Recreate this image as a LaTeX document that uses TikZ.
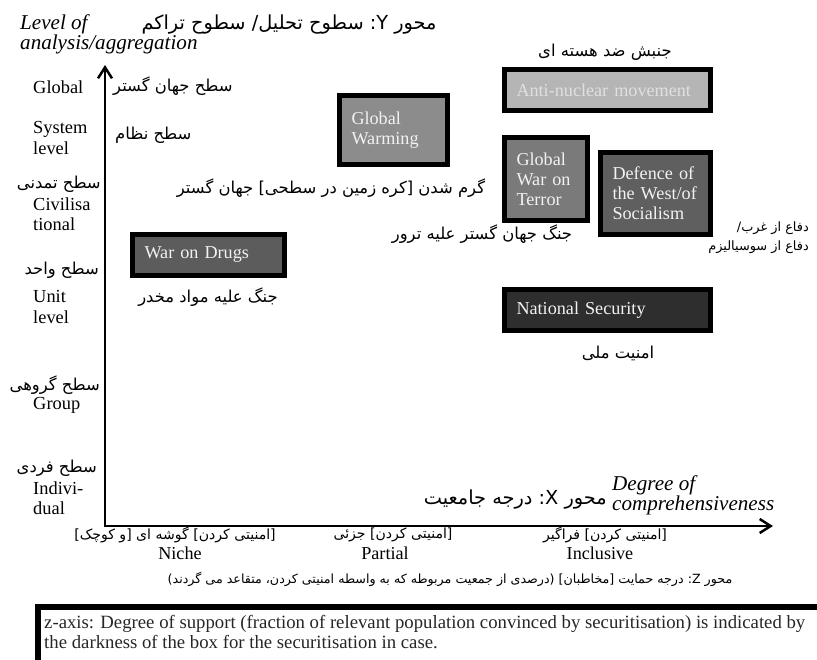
\documentclass[tikz,border=0pt]{standalone}
\usepackage{fontspec}
\setmainfont{Liberation Serif}
\newfontfamily\fafont[Script=Arabic]{DejaVu Sans}
\TeXXeTstate=1
\usetikzlibrary{arrows.meta}
\definecolor{zlight}{HTML}{B5B5B5}
\definecolor{zwarm}{HTML}{8C8C8C}
\definecolor{zterror}{HTML}{7A7A7A}
\definecolor{zwest}{HTML}{5F5F5F}
\definecolor{zdrugs}{HTML}{5C5C5C}
\definecolor{zdark}{HTML}{2E2E2E}
\newcommand{\rl}[1]{\beginR#1\endR}
\tikzset{
  secbox/.style={draw=black,line width=0.15cm,anchor=north west,align=left,inner xsep=0.36cm,inner ysep=0pt,outer sep=0pt,text=white!95!black,font=\fontsize{15.5}{17}\selectfont},
  lvl/.style={anchor=west,align=left,inner sep=0pt,font=\fontsize{15.7}{17.5}\selectfont},
  axname/.style={anchor=north west,align=left,inner sep=0pt,font=\itshape\fontsize{18}{17.5}\selectfont},
  fa/.style={inner sep=0pt,font=\fafont\fontsize{14}{17}\selectfont},
  fabig/.style={fa,font=\fafont\fontsize{16.5}{20}\selectfont},
  fasmall/.style={fa,font=\fafont\fontsize{12}{14}\selectfont},
  tick/.style={inner sep=0pt,font=\fontsize{15.5}{17}\selectfont},
  axisline/.style={line width=0.075cm,<->},
  note/.style={anchor=north west,align=left,inner sep=0pt,text=black!85,font=\fontsize{16}{17}\selectfont},
  noteframe/.style={line width=0.18cm},
}
\begin{document}
\begin{tikzpicture}[x=0.03cm,y=-0.03cm,>={Straight Barb[length=0.33cm,width=0.42cm]}]
\useasboundingbox (0,0) rectangle (817,659);

% axes
\coordinate (origin) at (105,526);
\coordinate (ytip) at (105,65);
\coordinate (xtip) at (773,526);
\draw[axisline] (ytip) -- (origin) -- (xtip);

\node[axname] (ylabel) at (20,14) {Level of\\analysis/aggregation};
\node[fabig] (ytitle) at (289,25) {\rl{محور \beginL Y\endL: سطوح تحلیل/ سطوح تراکم}};
\node[axname] (xlabel) at (612,475) {Degree of\\comprehensiveness};
\node[fabig,anchor=east] (xtitle) at (607,500) {\rl{محور \beginL X\endL: درجه جامعیت}};

% levels on the y axis
\node[lvl] (global) at (33,87) {Global};
\node[lvl] (system) at (33,138) {System\\level};
\node[lvl] (civ) at (33,214) {Civilisa\\tional};
\node[lvl] (unit) at (33,307) {Unit\\level};
\node[lvl] (group) at (33,405) {Group};
\node[lvl] (indiv) at (33,498) {Indivi-\\dual};

\node[fa,anchor=west] (globalfa) at (113,86) {\rl{سطح جهان گستر}};
\node[fa,anchor=west] (systemfa) at (115,135) {\rl{سطح نظام}};
\node[fa,anchor=east] (civfa) at (101,184) {\rl{سطح تمدنی}};
\node[fa,anchor=east] (unitfa) at (99,270) {\rl{سطح واحد}};
\node[fa,anchor=east] (groupfa) at (100,385) {\rl{سطح گروهی}};
\node[fa,anchor=east] (indivfa) at (97,468) {\rl{سطح فردی}};

% securitisations
\node[secbox,fill=zlight,text=white!88!black,text width=5.46cm,minimum height=1.23cm] (antinuc) at (504.5,69.5) {Anti-nuclear movement};
\node[secbox,fill=zwarm,text width=2.52cm,minimum height=2.07cm] (warming) at (339.5,95.5) {Global\\Warming};
\node[secbox,fill=zterror,text width=1.77cm,minimum height=2.49cm] (terror) at (504.5,137.5) {Global\\War on\\Terror};
\node[secbox,fill=zwest,text width=2.58cm,minimum height=2.46cm] (west) at (600.5,152.5) {Defence of\\the West/of\\Socialism};
\node[secbox,fill=zdrugs,text width=3.84cm,minimum height=1.23cm] (drugs) at (132.5,234.5) {War on Drugs};
\node[secbox,fill=zdark,text width=5.46cm,minimum height=1.23cm] (natsec) at (504.5,289.5) {National Security};

\node[fa] (antinucfa) at (605,52) {\rl{جنبش ضد هسته ای}};
\node[fa] (warmingfa) at (331,188) {\rl{گرم شدن [کره زمین در سطحی] جهان گستر}};
\node[fa] (terrorfa) at (482,234) {\rl{جنگ جهان گستر علیه ترور}};
\node[fa,font=\fafont\fontsize{11}{16}\selectfont,align=right,anchor=east] (westfa) at (809,237.5) {\rl{دفاع از غرب/}\\\rl{دفاع از سوسیالیزم}};
\node[fa] (drugsfa) at (208,297) {\rl{جنگ علیه مواد مخدر}};
\node[fa] (natsecfa) at (618,353) {\rl{امنیت ملی}};

% degrees on the x axis
\node[fasmall] (nichefa) at (175,535) {\rl{[امنیتی کردن] گوشه ای [و کوچک]}};
\node[tick] (niche) at (180,553) {Niche};
\node[fasmall] (partialfa) at (393,535) {\rl{[امنیتی کردن] جزئی}};
\node[tick] (partial) at (385,553) {Partial};
\node[fasmall] (inclfa) at (605,535) {\rl{[امنیتی کردن] فراگیر}};
\node[tick] (incl) at (600,553) {Inclusive};

\node[fasmall,font=\fafont\fontsize{10.8}{13}\selectfont] (ztitle) at (450,579) {\rl{محور \beginL Z\endL: درجه حمایت [مخاطبان] (درصدی از جمعیت مربوطه که به واسطه امنیتی کردن، متقاعد می گردند)}};

% z axis explanation
\node[note] (zexpl) at (44,615) {z-axis: Degree of support (fraction of relevant population convinced by securitisation) is indicated by\\the darkness of the box for the securitisation in case.};
\draw[noteframe] (37.5,700) |- (900,606.5);
\end{tikzpicture}
\end{document}
